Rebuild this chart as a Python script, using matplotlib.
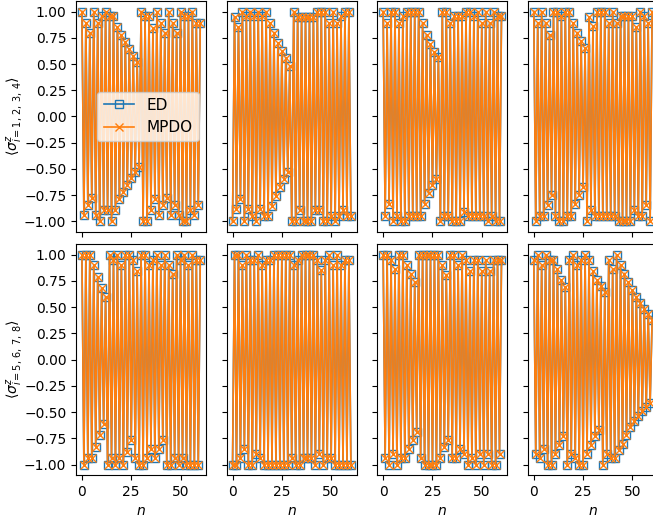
import numpy as np
import matplotlib.pyplot as plt

n = np.arange(61)

# values at even n (0, 2, ..., 60) and odd n (1, 3, ..., 59)
p1_even = [1.00, 0.89, 0.80, 1.00, 0.89, 0.96, 1.00, 0.96, 0.96, 0.85, 0.78, 0.71, 0.64, 0.58, 0.52,
           1.00, 0.96, 0.96, 0.84, 1.00, 0.89, 0.80, 1.00, 0.89, 0.80, 1.00, 0.96, 0.96, 1.00, 0.89, 0.89]
p1_odd = [-0.94, -0.84, -0.78, -0.94, -1.00, -0.89, -0.89, -1.00, -0.89, -0.79, -0.72, -0.65, -0.59, -0.53, -0.48,
          -1.00, -1.00, -0.89, -0.79, -0.94, -0.84, -0.78, -0.94, -0.84, -0.94, -1.00, -1.00, -0.89, -0.94, -0.84]

p2_even = [-1.00, -0.88, -0.79, -1.00, -0.88, -0.95, -1.00, -0.88, -0.95, -0.95, -0.85, -0.76, -0.67, -0.60, -0.53,
           -1.00, -1.00, -0.89, -1.00, -1.00, -1.00, -0.89, -0.89, -1.00, -1.00, -0.95, -1.00, -0.95, -0.89, -0.95, -0.95]
p2_odd = [0.95, 0.85, 1.00, 0.96, 1.00, 0.96, 1.00, 0.96, 1.00, 0.89, 0.80, 0.70, 0.62, 0.56, 0.48,
          1.00, 0.95, 0.95, 0.95, 0.95, 0.95, 1.00, 1.00, 1.00, 0.89, 1.00, 0.89, 0.96, 1.00, 1.00]

p3_even = [1.00, 0.89, 1.00, 1.00, 0.89, 0.96, 1.00, 1.00, 1.00, 1.00, 0.89, 0.78, 0.69, 0.61, 0.57,
           1.00, 1.00, 0.89, 0.96, 0.96, 0.96, 1.00, 1.00, 0.96, 1.00, 0.89, 1.00, 0.89, 1.00, 0.96, 0.96]
p3_odd = [-0.95, -0.83, -1.00, -0.95, -1.00, -1.00, -0.95, -0.95, -0.95, -0.95, -0.83, -0.73, -0.65, -0.60, -1.00,
          -0.95, -0.95, -1.00, -1.00, -1.00, -0.91, -0.95, -0.95, -0.95, -0.95, -0.95, -1.00, -0.95, -1.00, -1.00]

p4_even = [1.00, 0.89, 1.00, 0.89, 0.78, 1.00, 1.00, 0.96, 1.00, 1.00, 0.89, 0.80, 0.72, 0.65, 0.95,
           0.86, 1.00, 1.00, 1.00, 0.89, 1.00, 0.89, 0.96, 0.96, 0.96, 0.96, 0.85, 1.00, 0.96, 0.89, 1.00]
p4_odd = [-1.00, -0.95, -0.95, -0.84, -0.75, -0.95, -1.00, -1.00, -0.95, -0.95, -0.83, -0.75, -0.67, -1.00, -0.89,
          -0.95, -0.95, -0.95, -0.95, -0.95, -0.95, -1.00, -1.00, -1.00, -1.00, -0.89, -0.95, -0.95, -0.84, -1.00]

p5_even = [1.00, 1.00, 1.00, 0.90, 0.79, 0.68, 0.60, 1.00, 0.95, 1.00, 0.90, 1.00, 1.00, 0.95, 0.84,
           1.00, 1.00, 0.90, 0.95, 1.00, 0.90, 1.00, 0.90, 0.82, 1.00, 0.95, 1.00, 0.90, 1.00, 0.95, 0.95]
p5_odd = [-1.00, -0.94, -0.94, -0.83, -0.72, -0.61, -1.00, -0.94, -1.00, -0.94, -1.00, -0.88, -0.77, -0.94, -1.00,
          -1.00, -0.94, -0.85, -0.94, -0.85, -0.77, -1.00, -1.00, -0.94, -1.00, -0.94, -1.00, -1.00, -1.00, -1.00]

p6_even = [-1.00, -1.00, -0.94, -0.85, -1.00, -1.00, -0.90, -0.94, -1.00, -1.00, -1.00, -1.00, -1.00, -1.00, -1.00,
           -0.94, -1.00, -1.00, -0.94, -0.94, -0.94, -1.00, -0.90, -1.00, -0.94, -0.94, -1.00, -1.00, -1.00, -1.00, -1.00]
p6_odd = [1.00, 1.00, 0.90, 1.00, 0.95, 0.95, 1.00, 0.90, 0.95, 0.95, 1.00, 1.00, 1.00, 1.00, 1.00,
          0.90, 0.95, 1.00, 1.00, 1.00, 1.00, 0.95, 0.85, 0.95, 1.00, 0.90, 1.00, 0.90, 0.95, 0.95]

p7_even = [1.00, 1.00, 0.95, 0.86, 1.00, 1.00, 0.90, 0.82, 0.74, 1.00, 1.00, 1.00, 1.00, 1.00, 1.00,
           0.90, 0.81, 1.00, 1.00, 0.90, 1.00, 0.95, 0.84, 0.95, 0.95, 0.84, 0.95, 0.84, 0.95, 0.95, 0.95]
p7_odd = [-0.94, -1.00, -0.90, -1.00, -0.94, -0.94, -0.85, -0.77, -0.69, -0.94, -1.00, -1.00, -1.00, -1.00, -0.94,
          -0.83, -0.77, -0.94, -0.94, -0.85, -0.90, -1.00, -0.94, -1.00, -0.90, -1.00, -0.90, -1.00, -1.00, -0.90]

p8_even = [0.95, 1.00, 0.90, 1.00, 0.95, 0.95, 0.86, 0.76, 0.69, 0.95, 1.00, 0.90, 0.95, 1.00, 0.95,
           0.84, 0.76, 0.70, 0.64, 0.95, 0.86, 1.00, 0.90, 0.82, 0.74, 0.66, 0.60, 0.54, 0.48, 0.43, 0.38]
p8_odd = [-0.90, -0.94, -0.85, -1.00, -1.00, -0.90, -0.81, -0.73, -1.00, -0.90, -0.94, -1.00, -1.00, -0.90, -0.81,
          -0.73, -0.67, -1.00, -0.90, -0.94, -0.94, -0.86, -0.80, -0.72, -0.64, -0.59, -0.54, -0.49, -0.45, -0.41]

panels = [(p1_even, p1_odd), (p2_even, p2_odd), (p3_even, p3_odd), (p4_even, p4_odd),
          (p5_even, p5_odd), (p6_even, p6_odd), (p7_even, p7_odd), (p8_even, p8_odd)]

y_ticks = [-1.00, -0.75, -0.50, -0.25, 0.00, 0.25, 0.50, 0.75, 1.00]
x_ticks = [0, 25, 50]


def merge(even, odd):
    z = np.empty(len(n))
    z[0::2] = even
    z[1::2] = odd
    return z


fig, axes = plt.subplots(2, 4, figsize=(6.53, 5.24), dpi=100, sharex=True, sharey=True)
fig.subplots_adjust(left=0.1164, right=1.0077, top=0.998, bottom=0.0935,
                    wspace=0.157, hspace=0.053)

for ax, (ev, od) in zip(axes.flat, panels):
    z = merge(ev, od)
    # ED and MPDO agree to within the marker size
    ax.plot(n, z, 's-', color='C0', mfc='none', lw=1.2, label='ED')
    ax.plot(n, z, 'x-', color='C1', lw=1.2, label='MPDO')

axes[0, 0].set_xticks(x_ticks)
axes[0, 0].set_yticks(y_ticks)
axes[0, 0].set_ylabel(r'$\langle\sigma^z_{i=1,\,2,\,3,\,4}\rangle$')
axes[1, 0].set_ylabel(r'$\langle\sigma^z_{i=5,\,6,\,7,\,8}\rangle$')
for ax in axes[:, 0]:
    ax.yaxis.set_label_coords(-0.39, 0.5)
for ax in axes[1]:
    ax.set_xlabel('$n$')
axes[0, 0].legend(loc='center right', fontsize=11)

fig.savefig('out.png', dpi=100)
